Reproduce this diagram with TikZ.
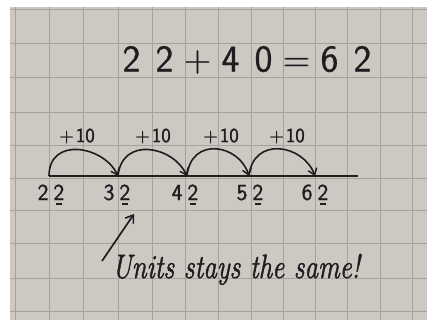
\documentclass[tikz,border=0pt]{standalone}
\usepackage{fontspec}
\usetikzlibrary{arrows.meta}
\newfontfamily\handsans{Latin Modern Sans}[FakeBold=1.2]
\newfontfamily\handeq{Latin Modern Sans}[FakeBold=0.6]
\newfontfamily\handnote{Latin Modern Roman}[FakeBold=1.6]
\definecolor{paperc}{RGB}{205,201,194}
\definecolor{gridc}{RGB}{166,162,155}
\definecolor{inkc}{RGB}{30,30,32}
\newcommand\udig[1]{\ooalign{#1\cr\hidewidth\rule[-5pt]{6pt}{1.8pt}\hidewidth\cr}}
\newcommand\cellc[1]{\makebox[33pt]{#1}}
\begin{document}
\begin{tikzpicture}[x=1pt,y=-1pt,
  gridline/.style={draw=gridc,line width=0.9pt},
  numline/.style={draw=inkc,line width=1.8pt},
  jump/.style={draw=inkc,line width=1.6pt,-{Straight Barb[length=6pt,width=9pt,line width=1.5pt]}},
  pointer/.style={draw=inkc,line width=1.7pt,-{Straight Barb[length=7pt,width=10pt,line width=1.6pt]}},
  eqtext/.style={text=inkc,font=\handeq\fontsize{38}{40}\selectfont,inner sep=0pt},
  steplabel/.style={text=inkc,font=\handsans\fontsize{20}{22}\selectfont,inner sep=0pt},
  numlabel/.style={text=inkc,font=\handsans\fontsize{23}{25}\selectfont,inner sep=0pt,anchor=base},
  notetext/.style={text=inkc,font=\handnote\itshape\fontsize{27}{30}\selectfont,inner sep=0pt,anchor=base}]
\useasboundingbox (0,0) rectangle (427,320);
\fill[white] (0,0) rectangle (427,320);
\fill[paperc] (10,7) rectangle (427,320);
% grid
\foreach \gx in {15,49,83,118,152,185,218,251,283,315,347,380,412}
  \draw[gridline] (\gx,7) -- (\gx,320);
\foreach \gy in {9,43,77,112,145,178,210,243,278,311}
  \draw[gridline] (10,\gy) -- (427,\gy);
% equation
\node[eqtext] (eq) at (247,60) {\cellc{2}\cellc{2}\cellc{+}\cellc{4}\cellc{0}\cellc{=}\cellc{6}\cellc{2}};
% number line points
\coordinate (p22) at (49,176);
\coordinate (p32) at (118,176);
\coordinate (p42) at (187,176);
\coordinate (p52) at (249,176);
\coordinate (p62) at (315,176);
\coordinate (pend) at (358,176);
\draw[numline] (p22) -- (pend);
% jumps
\draw[jump] (p22) .. controls +(0,-40) and +(-14,-30) .. (p32);
\draw[jump] (p32) .. controls +(4,-40) and +(-14,-30) .. (p42);
\draw[jump] (p42) .. controls +(4,-40) and +(-10,-32) .. (p52);
\draw[jump] (p52) .. controls +(4,-40) and +(-12,-32) .. (p62);
% jump labels
\node[steplabel] (j1) at (77,136) {+\kern2pt10};
\node[steplabel] (j2) at (153,136) {+\kern2pt10};
\node[steplabel] (j3) at (221,136) {+\kern2pt10};
\node[steplabel] (j4) at (287,136) {+\kern2pt10};
% numbers
\node[numlabel] (n22) at (51,200) {2\kern5pt\udig{2}};
\node[numlabel] (n32) at (117,200) {3\kern5pt\udig{2}};
\node[numlabel] (n42) at (185,200) {4\kern5pt\udig{2}};
\node[numlabel] (n52) at (250,200) {5\kern5pt\udig{2}};
\node[numlabel] (n62) at (315,200) {6\kern5pt\udig{2}};
% pointer and note
\coordinate (atail) at (102,261);
\coordinate (ahead) at (134,214);
\draw[pointer] (atail) -- (ahead);
\node[notetext] (note) at (236,278) {\scalebox{1}[1.25]{Units stays the same!}};
\end{tikzpicture}
\end{document}
